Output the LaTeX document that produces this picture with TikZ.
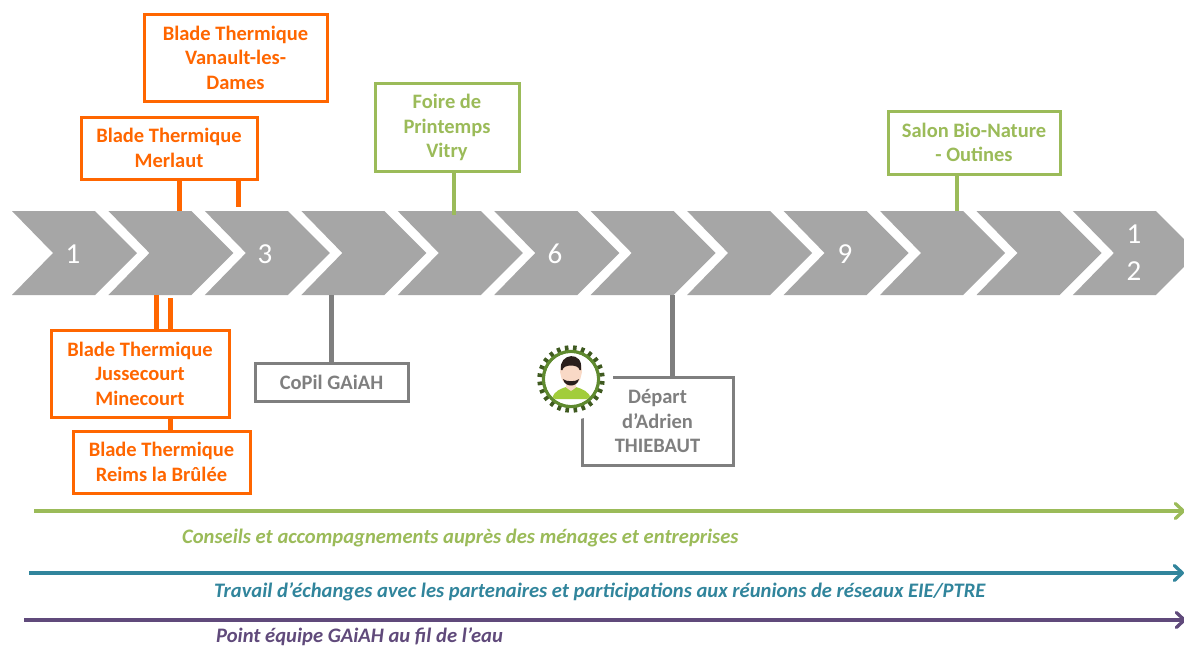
\documentclass[tikz,border=0pt]{standalone}
\usepackage{fontspec}
\setmainfont{Carlito}
\usetikzlibrary{arrows.meta}
\definecolor{cOrange}{HTML}{FF6600}
\definecolor{cGreen}{HTML}{9BBB59}
\definecolor{cGray}{HTML}{7F7F7F}
\definecolor{cTeal}{HTML}{31859C}
\definecolor{cPurple}{HTML}{604A7B}
\definecolor{cChev}{HTML}{A6A6A6}
\definecolor{cRing}{HTML}{5F8A2F}
\definecolor{cTooth}{HTML}{3F5A20}
\definecolor{cShirt}{HTML}{A2CD3A}
\definecolor{cSkin}{HTML}{F9D9C6}
\definecolor{cHair}{HTML}{2A1F1C}
\tikzset{
  x=1pt,y=-1pt,
  boxbase/.style={draw,fill=white,line width=3pt,align=center,inner sep=0pt,font=\fontsize{20.5}{24.5}\selectfont\bfseries},
  orangebox/.style={boxbase,draw=cOrange,text=cOrange},
  greenbox/.style={boxbase,draw=cGreen,text=cGreen},
  graybox/.style={boxbase,draw=cGray,text=cGray},
  olink/.style={draw=cOrange,line width=5pt},
  glink/.style={draw=cGreen,line width=4.5pt},
  ylink/.style={draw=cGray,line width=5pt},
  chevlabel/.style={text=white,inner sep=0pt,align=center,font=\fontsize{29}{37}\selectfont},
  span/.style={line width=3.3pt,-{Straight Barb[length=8pt,width=15pt,line width=3.3pt,round]}},
  spantext/.style={inner sep=0pt,font=\fontsize{20.6}{24}\selectfont\bfseries\itshape},
}
\newcommand{\chev}[1]{\fill[cChev] (#1+12,211) -- (#1+95,211) -- (#1+137,253) -- (#1+95,295) -- (#1+12,295) -- (#1+53,253) -- cycle;}
\begin{document}
\begin{tikzpicture}
\useasboundingbox (0,0) rectangle (1184,646);
\clip (0,0) rectangle (1184,646);
\fill[white] (0,0) rectangle (1184,646);
% chevrons
\foreach \i in {0,...,11} {\pgfmathsetmacro{\dx}{96.45*\i}\chev{\dx}}
\node[chevlabel] (n1) at (73,254) {1};
\node[chevlabel] (n3) at (265,254) {3};
\node[chevlabel] (n6) at (555,254) {6};
\node[chevlabel] (n9) at (845,254) {9};
\node[chevlabel] (n12) at (1134,253) {1\\2};
% free ends on the chevrons
\coordinate (t1) at (179,211);
\coordinate (t2) at (238.5,207);
\coordinate (t3) at (454,215);
\coordinate (t4) at (957,211);
\coordinate (b1) at (156,295);
\coordinate (b2) at (170,298);
\coordinate (b3) at (331,295);
\coordinate (b4) at (672,295);
% boxes
\node[orangebox,minimum width=183pt,minimum height=87pt] (vanault) at (235.5,57.5) {Blade Thermique\\Vanault-les-\\Dames};
\node[orangebox,minimum width=176pt,minimum height=62pt] (merlaut) at (169,148) {Blade Thermique\\Merlaut};
\node[orangebox,minimum width=178pt,minimum height=87pt] (jusse) at (140,373.5) {Blade Thermique\\Jussecourt\\Minecourt};
\node[orangebox,minimum width=177pt,minimum height=62pt] (reims) at (161.5,462) {Blade Thermique\\Reims la Brûlée};
\node[greenbox,minimum width=144pt,minimum height=88pt] (foire) at (447,127.5) {Foire de\\Printemps\\Vitry};
\node[greenbox,minimum width=172pt,minimum height=63pt] (salon) at (974,142.5) {Salon Bio-Nature\\- Outines};
\node[graybox,minimum width=153pt,minimum height=38pt] (copil) at (331.5,382) {CoPil GAiAH};
\node[graybox,minimum width=151pt,minimum height=88pt] (depart) at (657.5,421) {Départ\\d’Adrien\\THIEBAUT};
% connectors
\draw[olink] (merlaut.south -| t1) -- (t1);
\draw[olink] (merlaut.south -| t2) -- (t2);
\draw[olink] (b1) -- (jusse.north -| b1);
\draw[olink] (b2) -- (jusse.north -| b2);
\draw[olink] (jusse.south -| b2) -- (reims.north -| b2);
\draw[glink] (foire.south -| t3) -- (t3);
\draw[glink] (salon.south -| t4) -- (t4);
\draw[ylink] (b3) -- (copil.north -| b3);
\draw[ylink] (b4) -- (depart.north -| b4);
% avatar
\fill[white] (571,378) circle (42);
\foreach \a in {0,15,...,345} {\draw[line width=3.6pt,draw=cTooth] (571,379) ++(\a+7:27) -- ++(\a+7:6.7);}
\draw[line width=3.4pt,draw=cRing] (571,379) circle (27.5);
\fill[white] (571,379) circle (25.8);
\begin{scope}
\clip (571,379) circle (25.8);
\fill[cShirt] (552,399) .. controls (554,391) and (560,389) .. (566,387) -- (576,387) .. controls (582,389) and (589,391) .. (591,399) -- cycle;
\fill[cSkin] (566,380) -- (576,380) -- (576,387.5) -- (571,391) -- (566,387.5) -- cycle;
\end{scope}
\fill[cSkin] (561,366) .. controls (561,358) and (581,358) .. (581,366) -- (582,372) -- (581,376) .. controls (580,383) and (575,385) .. (571,385) .. controls (567,385) and (562,383) .. (561,376) -- (560,372) -- cycle;
\fill[cHair] (561,370) .. controls (558,353) and (584,350) .. (581,370) -- (579.5,370) .. controls (579,364) and (563,364) .. (562.5,370) -- cycle;
\fill[cHair] (563,379) .. controls (566,382) and (576,382) .. (579,379) .. controls (578,384) and (574,385.5) .. (571,385.5) .. controls (568,385.5) and (564,384) .. (563,379) -- cycle;
% spans
\coordinate (g0) at (34,511); \coordinate (g1) at (1185,511);
\coordinate (e0) at (29,573); \coordinate (e1) at (1184,573);
\coordinate (p0) at (24,620); \coordinate (p1) at (1186,620);
\draw[span,cGreen] (g0) -- (g1);
\draw[span,cTeal] (e0) -- (e1);
\draw[span,cPurple] (p0) -- (p1);
\node[spantext,text=cGreen,anchor=west] (tg) at (182,538) {Conseils et accompagnements auprès des ménages et entreprises};
\node[spantext,text=cTeal,anchor=west] (te) at (214,592) {Travail d’échanges avec les partenaires et participations aux réunions de réseaux EIE/PTRE};
\node[spantext,text=cPurple,anchor=west] (tp) at (216,637) {Point équipe GAiAH au fil de l’eau};
\end{tikzpicture}
\end{document}
